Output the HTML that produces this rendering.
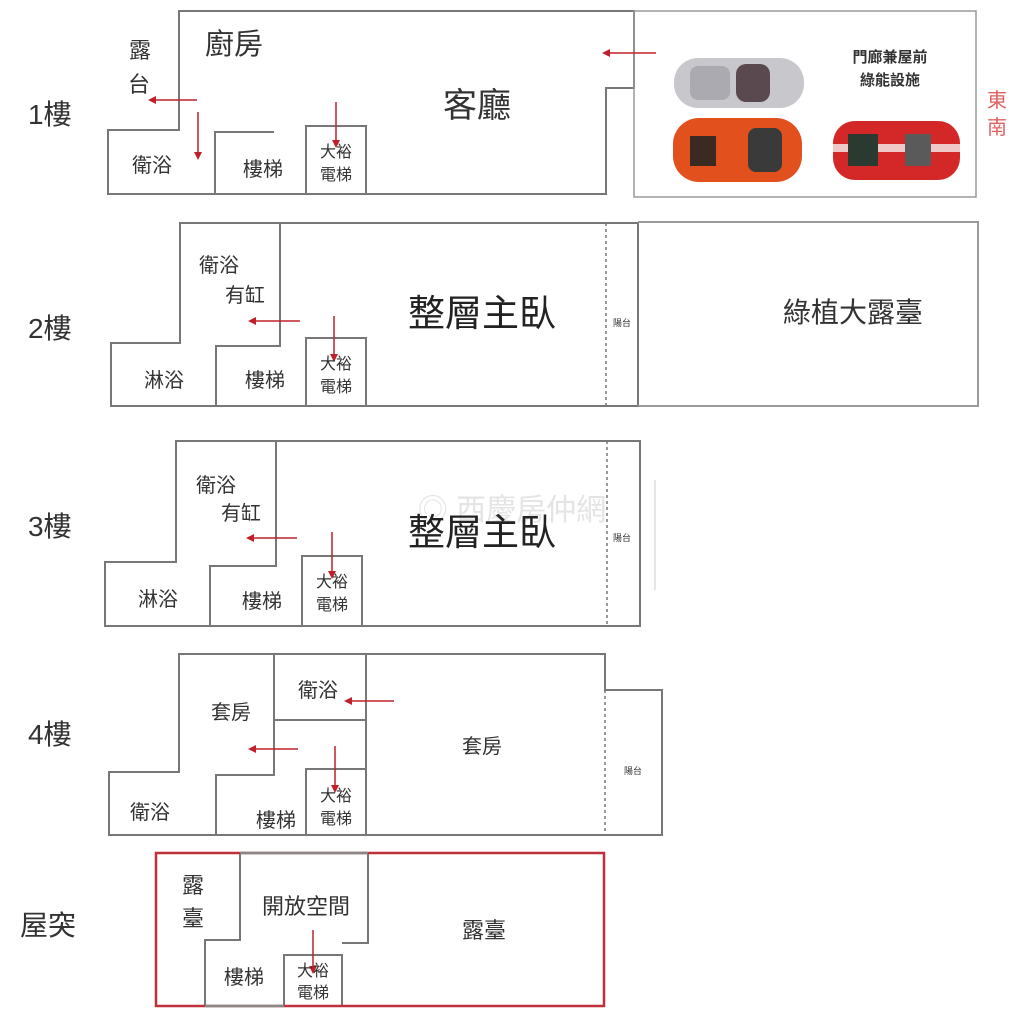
<!DOCTYPE html>
<html><head><meta charset="utf-8"><style>
html,body{margin:0;padding:0;background:#fff;}
svg{display:block}
text{font-family:"Liberation Sans","Noto Sans CJK TC",sans-serif;fill:#333}
</style></head><body>
<svg width="1024" height="1018" viewBox="0 0 1024 1018" xmlns="http://www.w3.org/2000/svg">
<defs><marker id="a" markerWidth="8" markerHeight="8" refX="6" refY="4" orient="auto" markerUnits="userSpaceOnUse"><path d="M0,0 L8,4 L0,8z" fill="#c0202a"/></marker></defs>
<g fill="none" stroke="#777" stroke-width="2">
<path d="M179,11 H634 V88 H606 V194 H108 V130 H179 Z"/>
<path d="M215,194 V132 H274"/>
<path d="M306,194 V126 H366 V194"/>
<rect x="634" y="11" width="342" height="186" stroke="#999" stroke-width="1.5"/>
<path d="M180,223 H638 V406 H111 V343 H180 Z"/>
<path d="M280,223 V346 H216 V406"/>
<path d="M306,406 V338 H366 V406"/>
<path d="M638,222 H978 V406 H638" stroke="#999"/>
<path d="M606,223 V406" stroke-dasharray="3,3" stroke-width="1.5"/>
<path d="M176,441 H640 V626 H105 V562 H176 Z"/>
<path d="M276,441 V566 H210 V626"/>
<path d="M302,626 V556 H362 V626"/>
<path d="M607,441 V626" stroke-dasharray="3,3" stroke-width="1.5"/>
<path d="M655,480 V590" stroke="#ccc" stroke-width="1"/>
<path d="M179,654 H605 V690 H662 V835 H109 V772 H179 Z"/>
<path d="M274,654 V775 H216 V835"/>
<path d="M274,720 H366"/>
<path d="M366,654 V835"/>
<path d="M306,835 V769 H366"/>
<path d="M605,690 V835" stroke-dasharray="3,3" stroke-width="1.5"/>
<path d="M240,853 V940 H205 V1006"/>
<path d="M368,853 V943 H342"/>
<path d="M284,1006 V955 H342 V1006"/>
</g>
<rect x="156" y="853" width="448" height="153" fill="none" stroke="#c0303a" stroke-width="2.5"/>
<line x1="240" y1="853" x2="368" y2="853" stroke="#888" stroke-width="2.5"/>
<line x1="205" y1="1006" x2="284" y2="1006" stroke="#888" stroke-width="2.5"/>
<g stroke="#c0202a" stroke-width="1.5" marker-end="url(#a)">
<line x1="656" y1="53" x2="604" y2="53"/>
<line x1="197" y1="100" x2="150" y2="100"/>
<line x1="198" y1="112" x2="198" y2="158"/>
<line x1="336" y1="102" x2="336" y2="146"/>
<line x1="300" y1="321" x2="250" y2="321"/>
<line x1="334" y1="316" x2="334" y2="360"/>
<line x1="297" y1="538" x2="248" y2="538"/>
<line x1="332" y1="532" x2="332" y2="577"/>
<line x1="394" y1="701" x2="346" y2="701"/>
<line x1="298" y1="749" x2="250" y2="749"/>
<line x1="335" y1="746" x2="335" y2="791"/>
<line x1="313" y1="930" x2="313" y2="972"/>
</g>
<rect x="674" y="58" width="130" height="50" rx="24" fill="#c8c8cc"/>
<rect x="690" y="66" width="40" height="34" rx="8" fill="#aaaab0"/>
<rect x="736" y="64" width="34" height="38" rx="10" fill="#5a4a50"/>
<rect x="673" y="118" width="129" height="64" rx="26" fill="#e2501e"/>
<rect x="748" y="128" width="34" height="44" rx="8" fill="#3a3a3a"/>
<rect x="690" y="136" width="26" height="30" fill="#3a2a22"/>
<rect x="833" y="121" width="127" height="59" rx="22" fill="#d42828"/>
<rect x="833" y="144" width="127" height="8" fill="#f0c8c8"/>
<rect x="848" y="134" width="30" height="32" fill="#2a3a30"/>
<rect x="905" y="134" width="26" height="32" fill="#5a5a5a"/>
<text x="890" y="62" font-size="15" font-weight="bold" text-anchor="middle" fill="#222">門廊兼屋前</text>
<text x="890" y="85" font-size="15" font-weight="bold" text-anchor="middle" fill="#222">綠能設施</text>
<text x="997" y="107" font-size="20" text-anchor="middle" style="fill:#e06060">東</text>
<text x="997" y="134" font-size="20" text-anchor="middle" style="fill:#e06060">南</text>
<g font-size="28" style="fill:#111">
<text x="28" y="124">1樓</text>
<text x="28" y="338">2樓</text>
<text x="28" y="536">3樓</text>
<text x="28" y="744">4樓</text>
<text x="20" y="935">屋突</text>
</g>
<g font-size="20" text-anchor="middle">
<text x="140" y="58" font-size="22">露</text><text x="139" y="92" font-size="22">台</text>
<text x="152" y="172">衛浴</text>
<text x="263" y="176">樓梯</text>
<text x="219" y="272">衛浴</text><text x="245" y="302">有缸</text>
<text x="164" y="387">淋浴</text>
<text x="265" y="387">樓梯</text>
<text x="216" y="492">衛浴</text><text x="241" y="520">有缸</text>
<text x="158" y="606">淋浴</text>
<text x="262" y="608">樓梯</text>
<text x="318" y="697">衛浴</text>
<text x="231" y="719">套房</text>
<text x="482" y="753">套房</text>
<text x="150" y="819">衛浴</text>
<text x="276" y="827">樓梯</text>
<text x="193" y="893" font-size="22">露</text><text x="193" y="926" font-size="22">臺</text>
<text x="306" y="914" font-size="22">開放空間</text>
<text x="484" y="938" font-size="22">露臺</text>
<text x="244" y="984">樓梯</text>
</g>
<g font-size="16" text-anchor="middle" style="fill:#111">
<text x="336" y="157">大裕</text><text x="336" y="180">電梯</text>
<text x="336" y="369">大裕</text><text x="336" y="392">電梯</text>
<text x="332" y="587">大裕</text><text x="332" y="610">電梯</text>
<text x="336" y="801">大裕</text><text x="336" y="824">電梯</text>
<text x="313" y="976">大裕</text><text x="313" y="998">電梯</text>
</g>
<g font-size="9" text-anchor="middle" style="fill:#444">
<text x="622" y="326">陽台</text>
<text x="622" y="541">陽台</text>
<text x="633" y="774">陽台</text>
</g>
<text x="234" y="54" font-size="29" text-anchor="middle">廚房</text>
<text x="477" y="117" font-size="34" text-anchor="middle">客廳</text>
<text x="482" y="326" font-size="37" text-anchor="middle" style="fill:#222">整層主臥</text>
<text x="853" y="322" font-size="28" text-anchor="middle">綠植大露臺</text>
<text x="512" y="520" font-size="30" text-anchor="middle" style="fill:#e4e4e4">◎ 西慶房仲網</text>
<text x="482" y="545" font-size="37" text-anchor="middle" style="fill:#222">整層主臥</text>
</svg>
</body></html>
